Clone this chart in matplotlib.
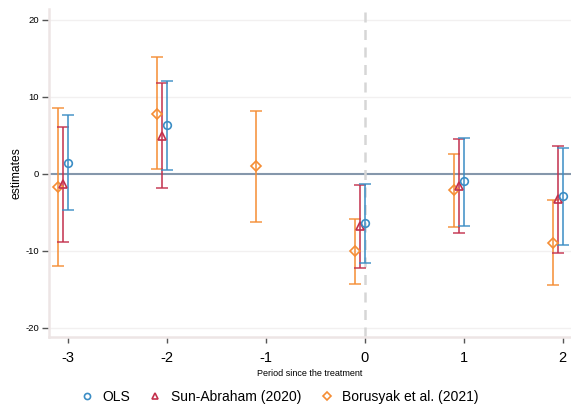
import matplotlib
matplotlib.use("Agg")
import matplotlib.pyplot as plt
from matplotlib.lines import Line2D
import numpy as np

plt.rcParams['font.family'] = ['Liberation Sans', 'DejaVu Sans']

periods = [-3, -2, -1, 0, 1, 2]
tick_labels = ["-3", "-2", "-1", "0", "1", "2"]

ols_est = [1.4, 6.3, np.nan, -6.4, -1.0, -2.9]
ols_lo = [-4.7, 0.5, np.nan, -11.6, -6.75, -9.3]
ols_hi = [7.6, 12.1, np.nan, -1.3, 4.6, 3.4]

sa_est = [-1.3, 4.9, np.nan, -6.8, -1.6, -3.3]
sa_lo = [-8.8, -1.9, np.nan, -12.2, -7.75, -10.3]
sa_hi = [6.1, 11.8, np.nan, -1.5, 4.5, 3.6]

bor_est = [-1.7, 7.8, 1.0, -10.0, -2.1, -9.0]
bor_lo = [-12.0, 0.6, -6.2, -14.3, -6.9, -14.5]
bor_hi = [8.5, 15.2, 8.2, -5.85, 2.6, -3.4]

series = [
    ("OLS", ols_est, ols_lo, ols_hi, 0.0, "#3b8dc5", "o", 5.5),
    ("Sun-Abraham (2020)", sa_est, sa_lo, sa_hi, -0.05, "#c3304c", "^", 6.0),
    ("Borusyak et al. (2021)", bor_est, bor_lo, bor_hi, -0.10, "#f58d34", "D", 5.5),
]

fig = plt.figure(figsize=(5.71, 4.04), dpi=100)
ax = fig.add_axes([0.0858, 0.1658, 0.9142, 0.812])

for yv in [-20, -10, 10, 20]:
    ax.axhline(yv, color="#f2f0f0", lw=1.0, zorder=0)
ax.axhline(0, color="#8597ab", lw=1.5, zorder=1)
ax.axvline(0, color="#d6d6d6", lw=1.8, ls=(0, (4, 3)), zorder=1)

for name, est, lo, hi, off, col, mk, ms in reversed(series):
    x = np.array(periods, dtype=float) + off
    est = np.array(est); lo = np.array(lo); hi = np.array(hi)
    m = ~np.isnan(est)
    ax.errorbar(x[m], est[m], yerr=[est[m] - lo[m], hi[m] - est[m]], fmt="none",
                ecolor=col, elinewidth=1.3, capsize=4.5, capthick=1.2, alpha=0.85, zorder=2)
    ax.plot(x[m], est[m], linestyle="none", marker=mk, markersize=ms,
            markerfacecolor="none", markeredgecolor=col, markeredgewidth=1.2, zorder=3)

ax.set_xlim(-3.19, 2.085)
ax.set_ylim(-21.2, 21.4)
ax.set_xticks(periods)
ax.set_xticklabels(tick_labels, fontsize=10.5)
ax.set_yticks([-20, -10, 0, 10, 20])
ax.set_yticklabels(["-20", "-10", "0", "10", "20"], fontsize=6.8)
ax.tick_params(axis="y", length=5, width=1.0, color="#555555", pad=2)
ax.tick_params(axis="x", length=4, width=1.0, color="#555555", pad=6)

for s in ["top", "right"]:
    ax.spines[s].set_visible(False)
for s in ["left", "bottom"]:
    ax.spines[s].set_color("#ede5e5")
    ax.spines[s].set_linewidth(1.8)

ax.set_ylabel("estimates", fontsize=8.7, labelpad=2)
ax.set_xlabel("Period since the treatment", fontsize=6.5, labelpad=3)

handles = [Line2D([], [], linestyle="none", marker=mk, markersize=ms * 0.8,
                  markerfacecolor="none", markeredgecolor=col, markeredgewidth=1.2)
           for name, est, lo, hi, off, col, mk, ms in series]
labels = [s[0] for s in series]
fig.legend(handles, labels, loc="center", bbox_to_anchor=(0.49, 0.018), ncol=3,
           frameon=False, fontsize=10, handlelength=0.8, handletextpad=0.7,
           columnspacing=1.45, borderaxespad=0)

fig.savefig("out.png", dpi=100, facecolor="white")
